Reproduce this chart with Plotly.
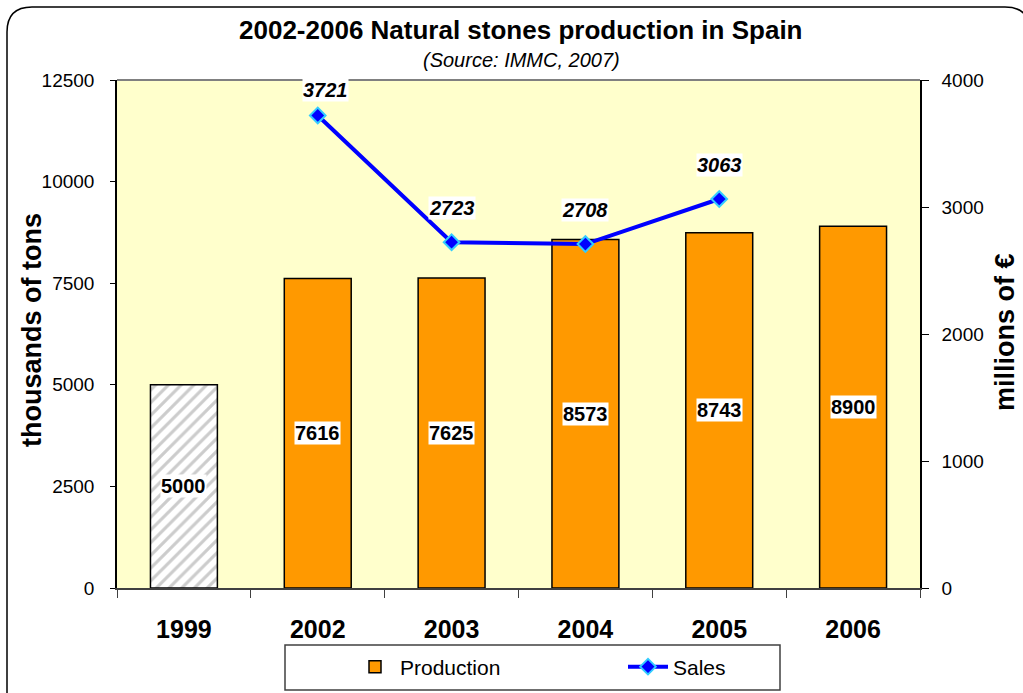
import plotly.graph_objects as go

years = ["1999", "2002", "2003", "2004", "2005", "2006"]
production = [5000, 7616, 7625, 8573, 8743, 8900]
sales_years = ["2002", "2003", "2004", "2005"]
sales = [3721, 2723, 2708, 3063]

W, H = 1023, 693
L, R, T, B = 117, 920, 80, 588
PW, PH = R - L, B - T

def px_x(x):
    return (x - L) / PW

def px_y(y):
    return (B - y) / PH

FONT = "Arial, Liberation Sans, sans-serif"

fig = go.Figure()

fig.add_trace(go.Bar(
    x=years[:1], y=production[:1], name="1999",
    marker=dict(color="white", line=dict(color="black", width=1.5),
                pattern=dict(shape="/", fgcolor="#9a9a9a", bgcolor="white",
                             size=9, solidity=0.35)),
    showlegend=False,
))
fig.add_trace(go.Bar(
    x=years[1:], y=production[1:], name="Production",
    marker=dict(color="#FF9900", line=dict(color="black", width=1.5)),
))
fig.add_trace(go.Scatter(
    x=sales_years, y=sales, name="Sales", yaxis="y2",
    mode="lines+markers",
    line=dict(color="#0000FF", width=4),
    marker=dict(symbol="diamond", size=12, color="#0000FF",
                line=dict(color="#33CCFF", width=2)),
))

annotations = []
for x, v in zip(years, production):
    annotations.append(dict(
        x=years.index(x), y=v / 2, xref="x", yref="y", text=f"<b>{v}</b>", showarrow=False,
        bgcolor="white", font=dict(family=FONT, size=20, color="black"),
        borderpad=0, xanchor="center", yanchor="middle",
    ))
shifts = [(8, 25), (0, 34), (0, 34), (0, 34)]
for (x, v), (dx, dy) in zip(zip(sales_years, sales), shifts):
    annotations.append(dict(
        x=years.index(x), y=v, xref="x", yref="y2", text=f"<b><i>{v}</i></b>", showarrow=False,
        bgcolor="white", font=dict(family=FONT, size=20, color="black"),
        xshift=dx, yshift=dy, borderpad=0, xanchor="center", yanchor="middle",
    ))

def text_ann(xp, yp, text, size, angle=0):
    return dict(x=px_x(xp), y=px_y(yp), xref="paper", yref="paper", text=text,
                showarrow=False, textangle=angle, xanchor="center", yanchor="middle",
                font=dict(family=FONT, size=size, color="black"))

annotations.append(text_ann(520, 30, "<b>2002-2006 Natural stones production in Spain</b>", 26))
annotations.append(text_ann(521, 60, "<i>(Source: IMMC, 2007)</i>", 20))
annotations.append(text_ann(32, 330, "<b>thousands of tons</b>", 27, -90))
annotations.append(text_ann(1005, 332, "<b>millions of €</b>", 27, -90))

x0, y0, x1, y1, r = 7, 7, 1030, 700, 25
path = (f"M {px_x(x0)},{px_y(y1)} L {px_x(x0)},{px_y(y0 + r)} "
        f"Q {px_x(x0)},{px_y(y0)} {px_x(x0 + r)},{px_y(y0)} "
        f"L {px_x(x1 - r)},{px_y(y0)} Q {px_x(x1)},{px_y(y0)} {px_x(x1)},{px_y(y0 + r)} "
        f"L {px_x(x1)},{px_y(y1)}")
shapes = [
    dict(type="path", path=path, xref="paper", yref="paper",
         line=dict(color="black", width=1.5), layer="above"),
    dict(type="line", xref="paper", yref="paper", x0=0, x1=1, y0=1, y1=1,
         line=dict(color="#808080", width=2), layer="below"),
    dict(type="rect", xref="paper", yref="paper",
         x0=px_x(285), x1=px_x(780), y0=px_y(645), y1=px_y(690),
         line=dict(color="#404040", width=1.5), fillcolor="white", layer="below"),
]

fig.update_layout(
    width=W, height=H,
    margin=dict(l=L, r=W - R, t=T, b=H - B, autoexpand=False),
    paper_bgcolor="white", plot_bgcolor="#FFFFCC",
    font=dict(family=FONT, size=19, color="black"),
    bargap=0.5, barmode="overlay",
    xaxis=dict(type="category", categoryorder="array", categoryarray=years,
               range=[-0.5, len(years) - 0.5], autorange=False, automargin=False,
               showline=True, linecolor="#404040", linewidth=1.5,
               ticks="outside", ticklen=8, tickcolor="#404040", tickson="boundaries",
               tickfont=dict(family=FONT, size=25, color="black"),
               ticklabelstandoff=18, tickangle=0,
               tickprefix="<b>", ticksuffix="</b>",
               showgrid=False, zeroline=False, fixedrange=True),
    yaxis=dict(range=[0, 12500], tickvals=[0, 2500, 5000, 7500, 10000, 12500],
               tickformat="d", automargin=False,
               showline=True, linecolor="black", linewidth=1.5,
               ticks="outside", ticklen=5, tickcolor="black",
               tickfont=dict(family=FONT, size=19, color="black"),
               showgrid=False, zeroline=False, ticklabelstandoff=12),
    yaxis2=dict(range=[0, 4000], tickvals=[0, 1000, 2000, 3000, 4000],
                tickformat="d", automargin=False,
                overlaying="y", side="right",
                showline=True, linecolor="black", linewidth=1.5,
                ticks="outside", ticklen=7, tickcolor="black",
                tickfont=dict(family=FONT, size=19, color="black"),
                showgrid=False, zeroline=False, ticklabelstandoff=9),
    legend=dict(orientation="h", x=px_x(350), y=px_y(667), xanchor="left", yanchor="middle",
                borderwidth=0, bgcolor="rgba(0,0,0,0)",
                font=dict(family=FONT, size=21, color="black"),
                entrywidth=218, itemwidth=40),
    annotations=annotations, shapes=shapes,
)

fig.write_html("out.html", config={"displayModeBar": False},
               post_script="document.body.style.margin='0px';")
